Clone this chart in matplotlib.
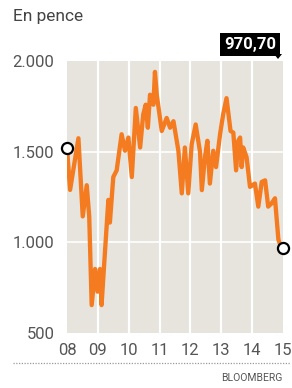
"""Share price line chart, pence, 2008-2015."""

import matplotlib

matplotlib.use("Agg", force=True)
import matplotlib.pyplot as plt
from matplotlib.lines import Line2D
from matplotlib.patches import Polygon

plt.rcParams["font.family"] = ["Roboto", "DejaVu Sans"]

# data
years = [
    2008.00, 2008.10, 2008.37, 2008.51, 2008.64, 2008.72, 2008.80, 2008.91,
    2008.99, 2009.07, 2009.12, 2009.23, 2009.34, 2009.39, 2009.50, 2009.61,
    2009.77, 2009.88, 2009.99, 2010.10, 2010.23, 2010.37, 2010.47, 2010.55,
    2010.62, 2010.69, 2010.80, 2010.85, 2010.91, 2011.07, 2011.23, 2011.34,
    2011.45, 2011.61, 2011.72, 2011.82, 2011.93, 2012.04, 2012.17, 2012.31,
    2012.37, 2012.47, 2012.55, 2012.63, 2012.74, 2012.83, 2012.96, 2013.06,
    2013.17, 2013.30, 2013.39, 2013.48, 2013.55, 2013.61, 2013.66, 2013.71,
    2013.82, 2013.93, 2014.09, 2014.20, 2014.31, 2014.42, 2014.52, 2014.63,
    2014.74, 2014.85, 2014.96, 2015.00,
]
price = [
    1520, 1289, 1574, 1143, 1315, 1143, 654, 853,
    728, 853, 654, 946, 1234, 1109, 1360, 1397,
    1596, 1505, 1578, 1360, 1741, 1523, 1705, 1759,
    1632, 1814, 1759, 1940, 1814, 1614, 1686, 1632,
    1668, 1505, 1270, 1523, 1270, 1541, 1650, 1500,
    1288, 1469, 1560, 1324, 1505, 1415, 1596, 1705,
    1795, 1614, 1605, 1397, 1560, 1578, 1415, 1523,
    1469, 1306, 1324, 1197, 1333, 1342, 1197, 1215,
    1243, 1016, 962, 970.70,
]
year_ticks = [2008, 2009, 2010, 2011, 2012, 2013, 2014, 2015]
year_labels = ["08", "09", "10", "11", "12", "13", "14", "15"]
value_ticks = [500, 1000, 1500, 2000]
value_labels = ["500", "1.000", "1.500", "2.000"]
last_label = "970,70"

W, H = 292, 388
fig = plt.figure(figsize=(W / 100, H / 100), dpi=100)
fig.patch.set_facecolor("white")

# axes box in pixel coordinates
left, right, top, bottom = 67, 283, 61, 333
ax = fig.add_axes([left / W, 1 - bottom / H, (right - left) / W, (bottom - top) / H])
ax.set_facecolor("#e6e4dd")
ax.set_xlim(2008, 2015)
ax.set_ylim(500, 2000)
for s in ax.spines.values():
    s.set_visible(False)

for y in value_ticks[1:-1]:
    ax.axhline(y, color="white", lw=1.2, zorder=1)
for x in year_ticks[1:-1]:
    ax.axvline(x, color="white", lw=1.6, zorder=1)

ax.plot(years, price, color="#f47b20", lw=3.1, solid_joinstyle="round", zorder=3)
ax.plot([years[0], years[-1]], [price[0], price[-1]], ls="none", marker="o", ms=8,
        mfc="white", mec="black", mew=1.6, zorder=4, clip_on=False)

ax.set_xticks(year_ticks)
ax.set_xticklabels(year_labels)
ax.set_yticks(value_ticks)
ax.set_yticklabels(value_labels)
ax.tick_params(length=0, labelsize=12, labelcolor="#555555")
ax.tick_params(axis="x", pad=7)
ax.tick_params(axis="y", pad=9)

fig.text(13 / W, 1 - 16 / H, "En pence", ha="left", va="center", fontsize=12.5,
         color="#444444")

# last value label box with pointer
fig.text(250 / W, 1 - 44.5 / H, last_label, ha="center", va="center", fontsize=12,
         fontweight="bold", color="white",
         bbox=dict(boxstyle="square,pad=0.25", fc="black", ec="none"))
fig.patches.append(Polygon([[274 / W, 1 - 54 / H], [282 / W, 1 - 54 / H], [278 / W, 1 - 59 / H]],
                           closed=True, fc="black", ec="none", transform=fig.transFigure))

fig.lines.append(Line2D([13 / W, 290 / W], [1 - 363 / H, 1 - 363 / H], color="#999999",
                        lw=0.9, ls=(0, (1, 1.2)), transform=fig.transFigure))
fig.text(282 / W, 1 - 378 / H, "BLOOMBERG", ha="right", va="center", fontsize=7.5,
         color="#555555")

fig.savefig("out.png", dpi=100)
